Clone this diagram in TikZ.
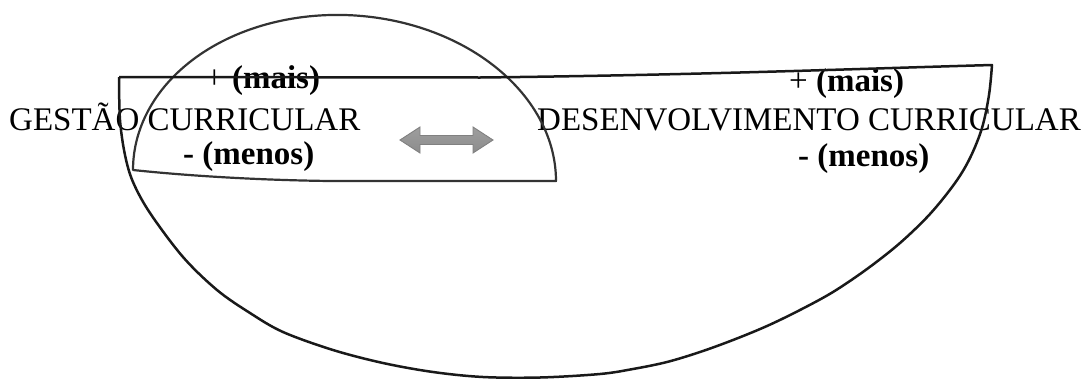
\documentclass[tikz,border=0pt]{standalone}
\usepackage{fontspec}
\setmainfont{Liberation Serif}
\begin{document}
\begin{tikzpicture}[x=1pt,y=-1pt,
  lbl/.style={anchor=base west, inner sep=0pt, font=\fontsize{33}{40}\selectfont},
  outline/.style={line width=2.5pt, draw=black!90, line join=round},
  inner/.style={line width=2.2pt, draw=black!80, line join=round},
  dblarrow/.style={draw=black!50, line width=0.9pt, top color=black!38, middle color=black!12, bottom color=black!45}]
\useasboundingbox (0,0) rectangle (1084,378);
% texts
\node[lbl] (gestao) at (9,130) {GESTÃO CURRICULAR};
\node[lbl] (gmais) at (205,88) {+ \textbf{(mais)}};
\node[lbl] (gmenos) at (183,164) {\textbf{- (menos)}};
\node[lbl] (desenv) at (537,130) {DESENVOLVIMENTO CURRICULAR};
\node[lbl] (dmais) at (789,91) {+ \textbf{(mais)}};
\node[lbl] (dmenos) at (798,166) {\textbf{- (menos)}};
% small half-ellipse
\draw[inner] plot[domain=180:0, samples=120] ({344.5+211.5*cos(\x)}, {175.5+5.5*cos(\x)-160.5*sin(\x)})
  -- (330,181) .. controls (250,180) and (180,175) .. (133,170) -- cycle;
% large bowl
\draw[outline] (119,77) -- (480,77.5) .. controls (700,75) and (850,69) .. (992,65)
  -- plot[smooth, tension=0.55] coordinates {(992,65) (989,95) (982,128) (970,158) (955,183) (930,214) (900,243) (867,269) (833,292) (800,310) (767,326) (733,340) (700,352) (667,362) (633,369) (600,374) (540,377.5) (483,377) (433,372) (383,363) (333,350) (283,332) (250,313) (217,290) (183,257) (150,213) (133,182) (125,155) (120,120) (119,77)};
% double arrow
\draw[dblarrow] (400,140) -- (420,127) -- (420,135.5) -- (473,135.5) -- (473,127) -- (493,140)
  -- (473,153) -- (473,144.5) -- (420,144.5) -- (420,153) -- cycle;
\end{tikzpicture}
\end{document}
